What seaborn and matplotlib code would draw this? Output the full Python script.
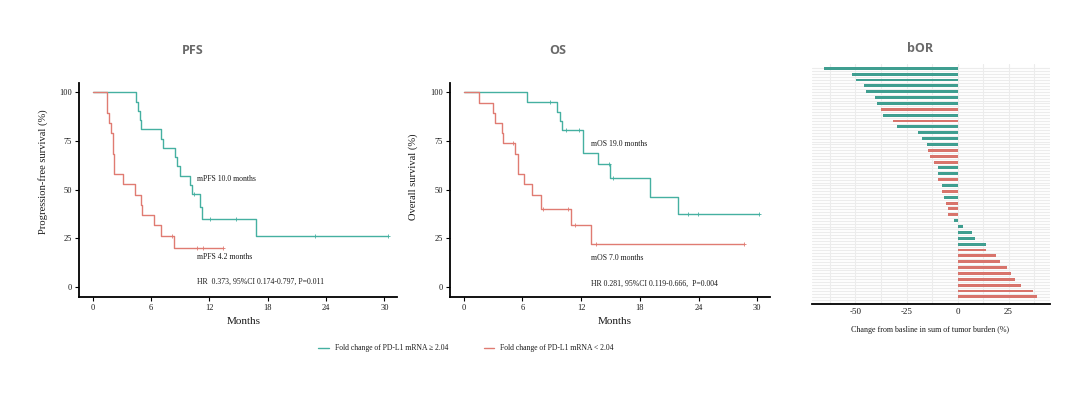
import numpy as np
import pandas as pd
import matplotlib
matplotlib.use("Agg")
import matplotlib.pyplot as plt
import seaborn as sns
from matplotlib.lines import Line2D

# ---------------- data ----------------
# PFS Kaplan-Meier steps (months, % survival)
pfs_hi_t = [0, 4.4, 4.6, 4.8, 5.0, 7.0, 7.2, 8.5, 8.7, 9.0, 10.0, 10.2, 11.0, 11.2, 16.8, 30.4]
pfs_hi_s = [100, 95.2, 90.5, 85.7, 81.0, 76.2, 71.4, 66.7, 61.9, 57.1, 52.4, 47.6, 41.0, 34.8, 26.2, 26.2]
pfs_hi_cens = [10.4, 12.1, 14.7, 22.9, 30.4]
pfs_lo_t = [0, 1.5, 1.7, 1.9, 2.1, 2.2, 3.1, 4.3, 4.95, 5.1, 6.3, 7.0, 8.3, 13.4]
pfs_lo_s = [100, 89.5, 84.2, 78.9, 68.4, 57.9, 52.6, 47.4, 42.1, 36.8, 31.6, 26.3, 19.7, 19.7]
pfs_lo_cens = [8.1, 10.7, 11.3, 13.4]

# OS Kaplan-Meier steps
os_hi_t = [0, 6.5, 9.5, 9.8, 10.0, 12.2, 13.7, 15.0, 19.0, 21.9, 30.2]
os_hi_s = [100, 95.0, 90.0, 85.2, 80.6, 68.6, 63.1, 55.7, 46.3, 37.4, 37.4]
os_hi_cens = [8.8, 10.5, 11.8, 14.8, 15.3, 22.9, 23.9, 30.2]
os_lo_t = [0, 1.6, 3.0, 3.2, 3.9, 4.0, 5.2, 5.5, 6.2, 7.0, 7.9, 11.0, 13.0, 28.6]
os_lo_s = [100, 94.7, 89.5, 84.2, 78.9, 73.7, 68.4, 57.9, 52.6, 47.4, 39.8, 31.7, 22.0, 22.0]
os_lo_cens = [5.0, 8.1, 10.7, 11.4, 13.5, 28.6]

# best overall response waterfall (% change), top to bottom
bor_change = [-65.5, -51.6, -49.7, -45.7, -44.8, -40.5, -39.4, -37.6, -36.6, -31.4,
              -29.8, -19.6, -17.3, -15.2, -14.4, -13.6, -11.6, -9.4, -9.4, -9.5,
              -7.5, -7.5, -6.5, -5.8, -4.8, -4.8, -1.5, 2.8, 7.0, 8.7,
              13.9, 13.9, 19.0, 20.9, 24.0, 26.0, 28.0, 31.0, 36.9, 38.9]
bor_group = ["H", "H", "H", "H", "H", "H", "H", "L", "H", "L",
             "H", "H", "H", "H", "L", "L", "L", "H", "H", "L",
             "H", "L", "H", "L", "L", "L", "H", "H", "H", "H",
             "H", "L", "L", "L", "L", "L", "L", "L", "L", "L"]

legend_labels = ["Fold change of PD-L1 mRNA \u2265 2.04", "Fold change of PD-L1 mRNA < 2.04"]

# ---------------- style ----------------
sns.set_theme(style="white")
plt.rcParams["font.family"] = ["Liberation Serif", "DejaVu Serif"]
plt.rcParams["axes.unicode_minus"] = False

TEAL_LINE = "#45b0a1"
RED_LINE = "#e07b72"
TEAL_BAR = "#3f9e90"
RED_BAR = "#d8746c"
TXT = "#1a1a1a"

fig = plt.figure(figsize=(10.8, 3.94), dpi=100)
fig.patch.set_facecolor("white")


def px_axes(l, t, r, b):
    return fig.add_axes([l / 1080, 1 - b / 394, (r - l) / 1080, (b - t) / 394])


ax1 = px_axes(79.3, 82.7, 397, 296.7)
ax2 = px_axes(450, 82.7, 770, 296.7)
ax3 = px_axes(812, 64, 1050, 304.3)


def step_val(t, s, x):
    idx = np.searchsorted(np.asarray(t), x, side="right") - 1
    return np.asarray(s)[idx]


def km(ax, t, s, cens, color):
    df = pd.DataFrame({"t": t, "s": s})
    sns.lineplot(data=df, x="t", y="s", ax=ax, color=color, lw=1.0,
                 drawstyle="steps-post", estimator=None, sort=False)
    cdf = pd.DataFrame({"t": cens, "s": [step_val(t, s, c) for c in cens]})
    sns.scatterplot(data=cdf, x="t", y="s", ax=ax, marker="+", s=10,
                    color=color, linewidth=0.6, zorder=3)


def km_style(ax, ylabel, ylab_y):
    ax.set_xlim(-1.4, 31.3)
    ax.set_ylim(-5.1, 104.9)
    ax.set_xticks([0, 6, 12, 18, 24, 30])
    ax.set_yticks([0, 25, 50, 75, 100])
    for sp in ["top", "right"]:
        ax.spines[sp].set_visible(False)
    for sp in ["left", "bottom"]:
        ax.spines[sp].set_color("black")
        ax.spines[sp].set_linewidth(1.3)
    ax.tick_params(axis="both", which="major", direction="out", length=3,
                   width=0.8, color="black", labelsize=6, pad=2,
                   bottom=True, left=True, labelcolor=TXT)
    ax.set_xlabel("Months", fontsize=8, color=TXT)
    ax.xaxis.set_label_coords(0.516, -0.095)
    ax.set_ylabel(ylabel, fontsize=7.6, color=TXT)
    ax.yaxis.set_label_coords(-0.10, ylab_y)
    ax.grid(False)


km(ax1, pfs_hi_t, pfs_hi_s, pfs_hi_cens, TEAL_LINE)
km(ax1, pfs_lo_t, pfs_lo_s, pfs_lo_cens, RED_LINE)
km_style(ax1, "Progression-free survival (%)", 0.585)
ax1.text(10.7, 55.2, "mPFS 10.0 months", fontsize=5.6, va="center", color=TXT)
ax1.text(10.7, 15.1, "mPFS 4.2 months", fontsize=5.6, va="center", color=TXT)
ax1.text(10.7, 2.3, "HR  0.373, 95%CI 0.174-0.797, P=0.011", fontsize=5.6,
         va="center", color=TXT)

km(ax2, os_hi_t, os_hi_s, os_hi_cens, TEAL_LINE)
km(ax2, os_lo_t, os_lo_s, os_lo_cens, RED_LINE)
km_style(ax2, "Overall survival (%)", 0.56)
ax2.text(13.0, 73.2, "mOS 19.0 months", fontsize=5.6, va="center", color=TXT)
ax2.text(13.0, 14.6, "mOS 7.0 months", fontsize=5.6, va="center", color=TXT)
ax2.text(13.0, 1.7, "HR 0.281, 95%CI 0.119-0.666,  P=0.004", fontsize=5.6,
         va="center", color=TXT)

# ---------------- waterfall ----------------
bdf = pd.DataFrame({"change": bor_change,
                    "row": [str(i) for i in range(len(bor_change))],
                    "group": bor_group})
sns.barplot(data=bdf, x="change", y="row", hue="group", order=list(bdf["row"]),
            hue_order=["H", "L"], palette={"H": TEAL_BAR, "L": RED_BAR},
            dodge=False, width=0.5, orient="h", ax=ax3, legend=False,
            linewidth=0, saturation=1)
n = len(bor_change)
ax3.set_ylim(n + 0.27, -0.73)
ax3.set_xlim(-71.3, 45.3)
ax3.set_xticks([-50, -25, 0, 25])
ax3.set_xticks([-62.5, -37.5, -12.5, 12.5, 37.5], minor=True)
ax3.set_yticks(np.arange(n))
ax3.set_yticks(np.arange(n) + 0.5, minor=True)
ax3.set_yticklabels([])
ax3.set_axisbelow(True)
ax3.grid(True, which="both", color="#ececec", lw=0.8)
for sp in ["top", "right", "left"]:
    ax3.spines[sp].set_visible(False)
ax3.spines["bottom"].set_color("black")
ax3.spines["bottom"].set_linewidth(1.3)
ax3.tick_params(axis="both", which="both", length=0)
ax3.tick_params(axis="x", labelsize=6.5, pad=3, labelcolor=TXT)
ax3.set_ylabel("")
ax3.set_xlabel("Change from basline in sum of tumor burden (%)", fontsize=5.8,
               color=TXT)
ax3.xaxis.set_label_coords(0.497, -0.09)

# ---------------- titles ----------------
for x, y, t in [(193, 50, "PFS"), (558, 50, "OS"), (920, 49, "bOR")]:
    fig.text(x / 1080, 1 - y / 394, t, ha="center", va="center", fontsize=9,
             fontweight="bold", color="#6a6a6a", family=["Open Sans", "DejaVu Sans"])

# ---------------- legend ----------------
handles = [Line2D([0], [0], color=TEAL_LINE, lw=1.0),
           Line2D([0], [0], color=RED_LINE, lw=1.0)]
fig.legend(handles, legend_labels, loc="center",
           bbox_to_anchor=(466 / 1080, 1 - 348.3 / 394), ncol=2, frameon=False,
           fontsize=5.5, handlelength=1.4, handletextpad=0.8, columnspacing=4.6,
           labelcolor=TXT)

fig.savefig("out.png", dpi=100, facecolor="white")
